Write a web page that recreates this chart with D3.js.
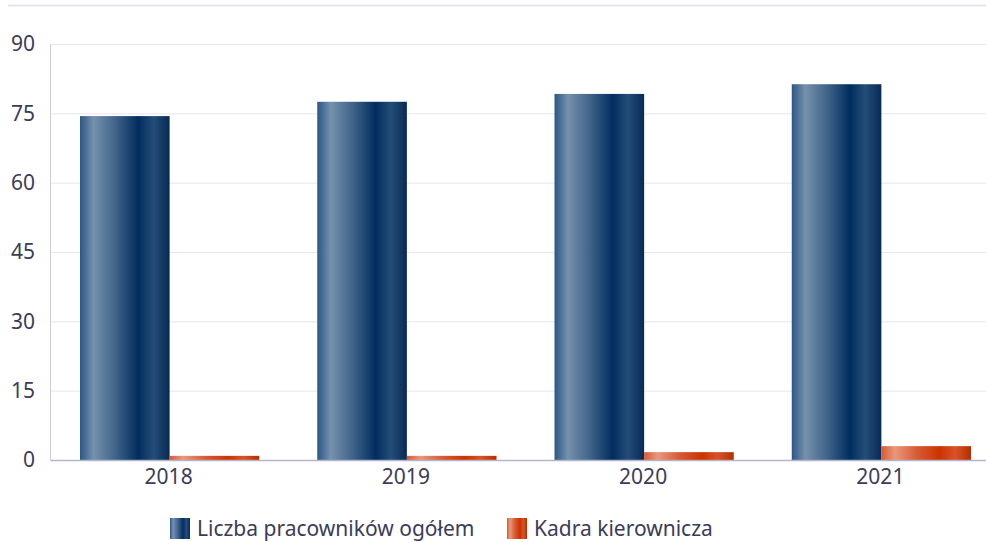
<!DOCTYPE html>
<html>
<head>
<meta charset="utf-8">
<style>
  body { margin: 0; background: #fff; }
  svg text { font-family: "Noto Sans", "Open Sans", sans-serif; fill: #3c3c58; }
</style>
</head>
<body>
<svg id="chart" width="986" height="542"></svg>
<script src="https://d3js.org/d3.v7.min.js"></script>
<script>
  // dane
  const years = ['2018', '2019', '2020', '2021']
  const total = [74.4, 77.5, 79.2, 81.3]
  const managers = [0.9, 0.9, 1.7, 3.0]
  const seriesNames = ['Liczba pracowników ogółem', 'Kadra kierownicza']
  const yTicks = [0, 15, 30, 45, 60, 75, 90]

  const svg = d3.select('#chart')
  const margin = {left: 50, right: -13, top: 44, bottom: 82}
  const W = 986, H = 542

  const x = d3.scaleBand().domain(years).range([margin.left, W - margin.right]).paddingInner(0).paddingOuter(0)
  const inner = d3.scaleBand().domain([0, 1]).range([30, x.bandwidth() - 28])
  const y = d3.scaleLinear().domain([0, 90]).range([H - margin.bottom, margin.top])

  // gradienty
  const defs = svg.append('defs')
  const grads = [
    {id: 'gBlue', stops: [[0, '#2c5784'], [0.15, '#7591ad'], [0.4, '#3f6389'], [0.65, '#012d5f'], [0.82, '#244d78'], [1, '#062a55']]},
    {id: 'gOrange', stops: [[0, '#d85a30'], [0.15, '#e9987c'], [0.4, '#d65a34'], [0.65, '#cc3300'], [0.82, '#d9522a'], [1, '#b52e00']]}
  ]
  grads.forEach(g => {
    const lg = defs.append('linearGradient').attr('id', g.id).attr('x1', 0).attr('x2', 1).attr('y1', 0).attr('y2', 0)
    g.stops.forEach(s => lg.append('stop').attr('offset', s[0]).attr('stop-color', s[1]))
  })

  // linia na górze
  svg.append('line').attr('x1', 8).attr('x2', W).attr('y1', 5.5).attr('y2', 5.5)
     .attr('stroke', '#e4e4ee').attr('stroke-width', 2)

  // siatka
  svg.append('g').selectAll('line').data(yTicks.filter(d => d > 0)).join('line')
     .attr('x1', margin.left).attr('x2', W)
     .attr('y1', d => y(d) + 0.5).attr('y2', d => y(d) + 0.5)
     .attr('stroke', '#e6e6ef')

  // oś Y
  const yAxis = svg.append('g').attr('transform', `translate(${margin.left},0)`)
     .call(d3.axisLeft(y).tickValues(yTicks).tickSize(0).tickPadding(15))
  yAxis.select('.domain').attr('stroke', '#ccccdc')
  yAxis.selectAll('text').attr('font-size', 21).style('fill', '#3c3c58')

  // słupki
  const groups = svg.append('g').selectAll('g').data(years).join('g')
     .attr('transform', d => `translate(${x(d)},0)`)
  groups.append('rect')
     .attr('x', inner(0)).attr('width', inner.bandwidth())
     .attr('y', (d, i) => y(total[i])).attr('height', (d, i) => y(0) - y(total[i]))
     .attr('fill', 'url(#gBlue)')
  groups.append('rect')
     .attr('x', inner(1)).attr('width', inner.bandwidth())
     .attr('y', (d, i) => y(managers[i])).attr('height', (d, i) => y(0) - y(managers[i]))
     .attr('fill', 'url(#gOrange)')

  // oś X
  const xAxis = svg.append('g').attr('transform', `translate(0,${y(0)})`)
     .call(d3.axisBottom(x).tickSize(0).tickPadding(9))
  xAxis.select('.domain').attr('stroke', '#b4b4cc').attr('stroke-width', 1.5)
  xAxis.selectAll('text').attr('font-size', 21).style('fill', '#3c3c58')

  // legenda
  const legendX = [170, 507]
  const legend = svg.append('g').selectAll('g').data(seriesNames).join('g')
     .attr('transform', (d, i) => `translate(${legendX[i]},518)`)
  legend.append('rect').attr('width', 20).attr('height', 21)
     .attr('fill', (d, i) => i === 0 ? 'url(#gBlue)' : 'url(#gOrange)')
  legend.append('text').attr('x', 27).attr('y', 18).attr('font-size', 21).text(d => d)
</script>
</body>
</html>
